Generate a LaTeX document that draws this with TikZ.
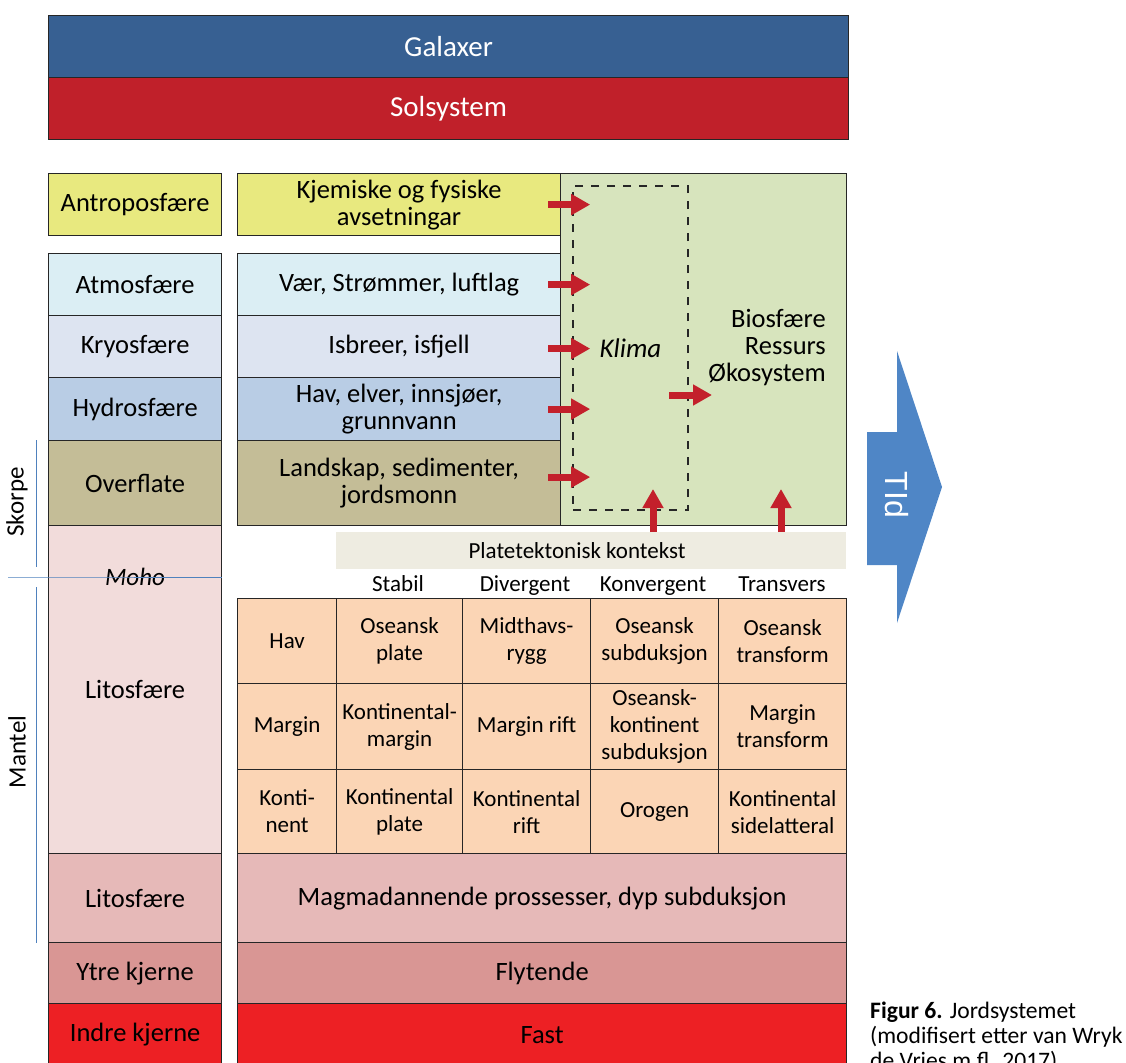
\documentclass[tikz,border=0pt]{standalone}
\usepackage{fontspec}
\setmainfont{Carlito}
\newfontfamily\arrowfont{Liberation Sans}
\usetikzlibrary{arrows.meta}

\definecolor{galblue}{HTML}{376092}
\definecolor{solred}{HTML}{C0202A}
\definecolor{antro}{HTML}{E8E97F}
\definecolor{atmos}{HTML}{DBEEF4}
\definecolor{kryo}{HTML}{DDE4F1}
\definecolor{hydro}{HTML}{B9CDE5}
\definecolor{surface}{HTML}{C4BD97}
\definecolor{litoA}{HTML}{F2DCDB}
\definecolor{peach}{HTML}{FBD5B5}
\definecolor{litoB}{HTML}{E6B9B8}
\definecolor{outer}{HTML}{D99694}
\definecolor{inner}{HTML}{ED2024}
\definecolor{bio}{HTML}{D7E4BD}
\definecolor{plateband}{HTML}{EEECE1}
\definecolor{timeblue}{HTML}{4F86C6}
\definecolor{arrowred}{HTML}{C3202B}
\definecolor{guideblue}{HTML}{4F81BD}
\definecolor{edge}{HTML}{262626}

\newcommand\fbig{\fontsize{29}{32}\selectfont}
\newcommand\fmain{\fontsize{26.5}{27}\selectfont}
\newcommand\fside{\fontsize{25}{27}\selectfont}
\newcommand\fgrid{\fontsize{23}{27}\selectfont}
\newcommand\fcap{\fontsize{23.6}{25}\selectfont}

\tikzset{
  box/.style={draw=edge, line width=1.2pt, inner sep=0pt, align=center,
              anchor=north west, font=\fmain},
  gridcell/.style={box, fill=peach, font=\fgrid},
  label/.style={inner sep=0pt, align=center},
  heading/.style={label, font=\fgrid, anchor=base},
  redarrow/.style={draw=arrowred, line width=7pt,
                   -{Triangle[length=19pt,width=20pt]}},
  guide/.style={draw=guideblue, line width=1pt},
}

\begin{document}
\begin{tikzpicture}[x=1pt,y=-1pt]
\clip (0,0) rectangle (1126,1062);

% cosmic context
\node[box, fill=galblue, text=white, font=\fbig, minimum width=800pt, minimum height=62pt] (gal) at (48,15) {Galaxer};
\node[box, fill=solred, text=white, font=\fbig, minimum width=800pt, minimum height=62pt] (sol) at (48,77) {Solsystem};

% spheres (left column)
\node[box, fill=antro,   minimum width=173pt, minimum height=62pt]  (antro) at (48,173) {Antroposfære};
\node[box, fill=atmos,   minimum width=173pt, minimum height=62pt]  (atmo)  at (48,253) {Atmosfære};
\node[box, fill=kryo,    minimum width=173pt, minimum height=62pt]  (kryo)  at (48,315) {Kryosfære};
\node[box, fill=hydro,   minimum width=173pt, minimum height=63pt]  (hydro) at (48,377) {Hydrosfære};
\node[box, fill=surface, minimum width=173pt, minimum height=85pt]  (over)  at (48,440) {Overflate};
\node[box, fill=litoA,   minimum width=173pt, minimum height=328pt] (litoA) at (48,525) {Litosfære};
\node[box, fill=litoB,   minimum width=173pt, minimum height=89pt]  (litoB) at (48,853) {Litosfære};
\node[box, fill=outer,   minimum width=173pt, minimum height=61pt]  (ytre)  at (48,942) {Ytre kjerne};
\node[box, fill=inner,   minimum width=173pt, minimum height=62pt]  (indre) at (48,1003) {Indre kjerne};

% processes (middle column)
\node[box, fill=antro,   minimum width=323pt, minimum height=62pt] (kjem) at (237,173) {Kjemiske og fysiske\\avsetningar};
\node[box, fill=atmos,   minimum width=323pt, minimum height=62pt] (vaer) at (237,253) {Vær, Strømmer, luftlag};
\node[box, fill=kryo,    minimum width=323pt, minimum height=62pt] (isb)  at (237,315) {Isbreer, isfjell};
\node[box, fill=hydro,   minimum width=323pt, minimum height=63pt] (hav)  at (237,377) {Hav, elver, innsjøer,\\grunnvann};
\node[box, fill=surface, minimum width=323pt, minimum height=85pt] (land) at (237,440) {Landskap, sedimenter,\\jordsmonn};

% biosphere block
\node[box, fill=bio, minimum width=286pt, minimum height=352pt] (bio) at (560,173) {};
\node[label, font=\fmain, align=right, anchor=east] (biotxt) at (826,348) {Biosfære\\Ressurs\\Økosystem};
\node[draw=edge, line width=1.3pt, dash pattern=on 8pt off 8pt, inner sep=0pt,
      minimum width=115pt, minimum height=324pt, font=\fontsize{27}{27}\selectfont\itshape] (klima) at (630.5,348) {Klima};

% plate tectonic context
\node[anchor=north west, fill=plateband, inner sep=0pt, minimum width=510pt, minimum height=37pt] (plate) at (336,532) {};
\node[heading] (platetxt) at (577,558) {Platetektonisk kontekst};
\node[heading] (hStab) at (398,591) {Stabil};
\node[heading] (hDiv)  at (525,591) {Divergent};
\node[heading] (hKon)  at (653,591) {Konvergent};
\node[heading] (hTra)  at (782,591) {Transvers};

% tectonic settings grid
\node[gridcell, minimum width=99pt,  minimum height=85pt] (g11) at (237,598) {Hav};
\node[gridcell, minimum width=126pt, minimum height=85pt] (g12) at (336,598) {Oseansk\\plate};
\node[gridcell, minimum width=128pt, minimum height=85pt] (g13) at (462,598) {Midthavs-\\rygg};
\node[gridcell, minimum width=128pt, minimum height=85pt] (g14) at (590,598) {Oseansk\\subduksjon};
\node[gridcell, minimum width=128pt, minimum height=85pt] (g15) at (718,598) {Oseansk\\transform};

\node[gridcell, minimum width=99pt,  minimum height=86pt] (g21) at (237,683) {Margin};
\node[gridcell, minimum width=126pt, minimum height=86pt] (g22) at (336,683) {Kontinental-\\margin};
\node[gridcell, minimum width=128pt, minimum height=86pt] (g23) at (462,683) {Margin rift};
\node[gridcell, minimum width=128pt, minimum height=86pt] (g24) at (590,683) {Oseansk-\\kontinent\\subduksjon};
\node[gridcell, minimum width=128pt, minimum height=86pt] (g25) at (718,683) {Margin\\transform};

\node[gridcell, minimum width=99pt,  minimum height=84pt] (g31) at (237,769) {Konti-\\nent};
\node[gridcell, minimum width=126pt, minimum height=84pt] (g32) at (336,769) {Kontinental\\plate};
\node[gridcell, minimum width=128pt, minimum height=84pt] (g33) at (462,769) {Kontinental\\rift};
\node[gridcell, minimum width=128pt, minimum height=84pt] (g34) at (590,769) {Orogen};
\node[gridcell, minimum width=128pt, minimum height=84pt] (g35) at (718,769) {Kontinental\\sidelatteral};

% deep earth
\node[box, fill=litoB, minimum width=609pt, minimum height=89pt] (magma) at (237,853) {Magmadannende prossesser, dyp subduksjon};
\node[box, fill=outer, minimum width=609pt, minimum height=61pt] (flyt)  at (237,942) {Flytende};
\node[box, fill=inner, minimum width=609pt, minimum height=62pt] (fast)  at (237,1003) {Fast};

% influence arrows
\draw[redarrow] ([xshift=-13pt]kjem.east) -- ++(42,0);
\draw[redarrow] ([xshift=-13pt]vaer.east) -- ++(42,0);
\draw[redarrow] ([xshift=-13pt,yshift=-2pt]isb.east) -- ++(42,0);
\draw[redarrow] ([xshift=-13pt]hav.east) -- ++(42,0);
\draw[redarrow] ([xshift=-13pt,yshift=6pt]land.east) -- ++(42,0);
\coordinate (klimaOut) at (669,395);
\coordinate (bioIn) at (712,395);
\draw[redarrow] (klimaOut) -- (bioIn);
\coordinate (upA) at (653,489);
\coordinate (upB) at (781,489);
\draw[redarrow] (plate.north -| upA) -- (upA);
\draw[redarrow] (plate.north -| upB) -- (upB);

% time arrow
\fill[timeblue] (867,432) -- (897,432) -- (897,351) -- (942,487) -- (897,623)
  -- (897,565) -- (867,565) -- cycle;
\node[label, text=white, font=\arrowfont\fontsize{32}{32}\selectfont, rotate=-90] (tid) at (897,495) {TId};

% crust / mantle markers
\node[label, font=\fside, rotate=90] (skorpe) at (17,502) {Skorpe};
\draw[guide] (36,440) -- (36,567);
\node[label, font=\fside, rotate=90] (mantel) at (17,752) {Mantel};
\draw[guide] (36,587) -- (36,943);
\node[label, font=\fside\itshape] (moho) at (135,577) {Moho};
\coordinate (mohoL) at (8,577);
\draw[guide] (mohoL) -- (litoA.west |- mohoL) -- (litoA.east |- mohoL);

% caption
\node[inner sep=0pt, align=left, anchor=north west, font=\fcap] (cap) at (870,1002)
  {\textbf{Figur 6.} Jordsystemet\\(modifisert etter van Wryk\\de Vries m.fl. 2017)};
\end{tikzpicture}
\end{document}
